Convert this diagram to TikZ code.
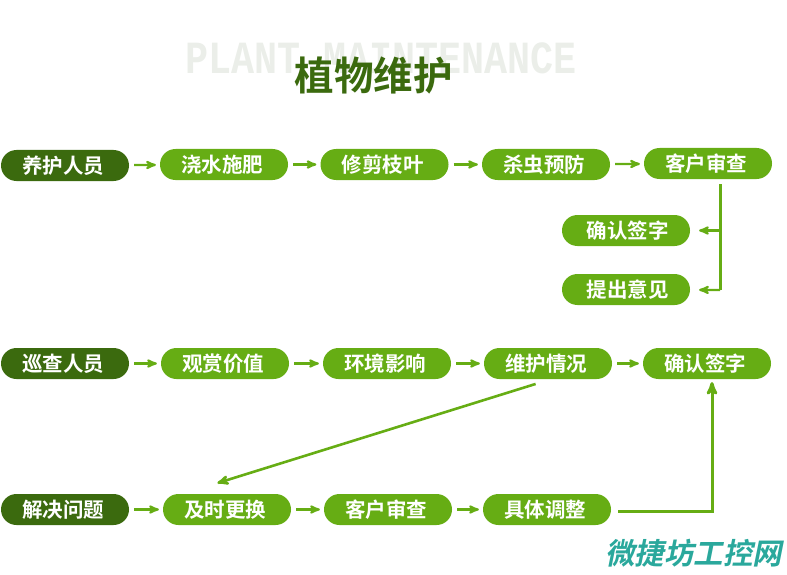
\documentclass[tikz,border=0pt]{standalone}
\usepackage{fontspec}
\usepackage{tikz}
\usetikzlibrary{arrows,positioning}
\newfontfamily\cjk{Noto Sans CJK SC}[BoldFont=* Bold]
\newfontfamily\ghostfont{Liberation Mono}
\definecolor{leafgreen}{HTML}{66AD14}
\definecolor{darkleaf}{HTML}{3B6A0E}
\definecolor{ghostgrey}{HTML}{EBEEE9}
\definecolor{marktea}{HTML}{2AA89C}

\begin{document}
\begin{tikzpicture}
	[x=1pt,y=-1pt,->,>=stealth',line width=2.2pt,draw=leafgreen,
		step node/.style={rectangle,rounded corners=15.5pt,fill=leafgreen,draw=none,text=white,font=\cjk\bfseries\fontsize{20.5}{20}\selectfont,minimum width=128pt,minimum height=31pt,inner sep=0pt,execute at end node=\hspace{4pt}},
		side node/.style={step node,execute at end node={},execute at begin node=\hspace{7pt}},
		lead node/.style={step node,fill=darkleaf},
		link/.style={shorten >=3pt,shorten <=4pt}]

	\useasboundingbox (0,0) rectangle (787,575);

	\node[text=ghostgrey,font=\ghostfont\bfseries\fontsize{38.4}{40}\selectfont,yscale=1.2] (ghost) at (381,58) {PLANT MAINTENANCE};
	\node[text=darkleaf,font=\cjk\bfseries\fontsize{39.5}{40}\selectfont] (title) at (373.5,75) {植物维护};

	\node[lead node] (carer) at (65,165.5) {养护人员};
	\node[step node] (water)[right of = carer,node distance=159pt,yshift=1pt] {浇水施肥};
	\node[step node] (prune)[right of = water,node distance=160.5pt] {修剪枝叶};
	\node[step node] (pest)[right of = prune,node distance=161.5pt] {杀虫预防};
	\node[step node] (audit)[right of = pest,node distance=162pt,yshift=1pt] {客户审查};
	\node[side node] (sign)[below of = audit,xshift=-82pt,node distance=67pt] {确认签字};
	\node[side node] (advice)[below of = sign,node distance=59pt] {提出意见};

	\node[lead node] (patrol) at (65,363.5) {巡查人员};
	\node[step node] (view)[right of = patrol,node distance=160pt] {观赏价值};
	\node[step node] (scene)[right of = view,node distance=162pt] {环境影响};
	\node[step node] (care)[right of = scene,node distance=161pt] {维护情况};
	\node[step node] (check)[right of = care,node distance=159pt] {确认签字};

	\node[lead node] (solve) at (65,509.5) {解决问题};
	\node[step node] (swap)[right of = solve,node distance=162pt] {及时更换};
	\node[step node] (again)[right of = swap,node distance=161pt] {客户审查};
	\node[step node] (adjust)[right of = again,node distance=159pt] {具体调整};

	\node[text=marktea,font=\cjk\bfseries\fontsize{29.5}{30}\selectfont,xslant=0.2] (mark) at (696,553) {微捷坊工控网};

	\coordinate (branch) at (720,230.5);
	\coordinate (elbow) at (720,290);
	\coordinate (corner) at (712,511);

	\path[link]
	(carer) edge (water)
	(water) edge (prune)
	(prune) edge (pest)
	(pest) edge (audit)
	(patrol) edge (view)
	(view) edge (scene)
	(scene) edge (care)
	(care) edge (check)
	(solve) edge (swap)
	(swap) edge (again)
	(again) edge (adjust)
	;

	\draw[-,line width=3pt,shorten <=4pt] (audit.south -| elbow) -- (elbow);
	\draw[shorten >=8pt] (branch) -- (sign);
	\draw[shorten >=8pt] (elbow) -- (advice);

	\draw[line width=2.6pt,shorten <=13pt,shorten >=33pt] (care.south) -- (swap.158.8);
	\draw[line width=3pt,shorten <=6pt,shorten >=2pt] (adjust.east |- corner) -- (corner) -- (corner |- check.south);
\end{tikzpicture}
\end{document}
